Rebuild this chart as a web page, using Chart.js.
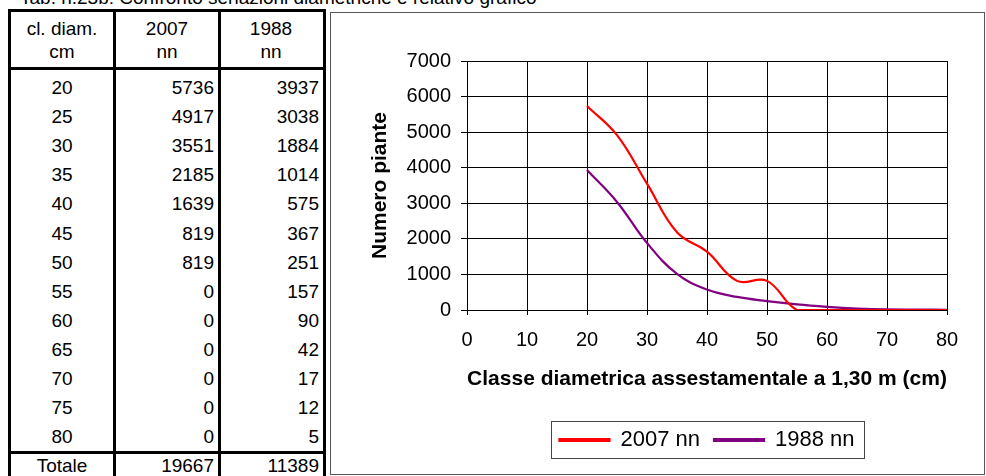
<!DOCTYPE html>
<html>
<head>
<meta charset="utf-8">
<script src="https://cdn.jsdelivr.net/npm/chart.js@4.4.0/dist/chart.umd.min.js"></script>
<style>
	body {
		margin: 0;
		width: 986px;
		height: 476px;
		overflow: hidden;
		position: relative;
		background: #fff;
		color: #000;
		font-family: 'Liberation Sans', Arial, sans-serif;
	}
	.ln { position: absolute; background: #000; }
	.cell {
		position: absolute;
		font-size: 19px;
		line-height: 22px;
		white-space: nowrap;
	}
	#title { position: absolute; left: 20px; top: -12px; font-size: 19px; line-height: 19px; white-space: nowrap; }
	#frame { position: absolute; left: 330px; top: 12px; width: 653px; height: 461px; border: 1px solid #555; }
	#myChart { position: absolute; left: 332px; top: 14px; }
</style>
</head>
<body>
<div id="title">Tab. n.23b: Confronto seriazioni diametriche e relativo grafico</div>
<div id="table"></div>
<div id="frame"></div>
<canvas id="myChart" width="651" height="459"></canvas>

<script>
const classi = [20, 25, 30, 35, 40, 45, 50, 55, 60, 65, 70, 75, 80]
const n2007 = [5736, 4917, 3551, 2185, 1639, 819, 819, 0, 0, 0, 0, 0, 0]
const n1988 = [3937, 3038, 1884, 1014, 575, 367, 251, 157, 90, 42, 17, 12, 5]
const totali = [19667, 11389]
const intestazione = [['cl. diam.', '2007', '1988'], ['cm', 'nn', 'nn']]
const serie = ['2007 nn', '1988 nn']

// tabella a sinistra
const table = document.getElementById('table')
const addLine = (x, y, w, h) => {
	const d = document.createElement('div')
	d.className = 'ln'
	d.style.cssText = `left:${x}px;top:${y}px;width:${w}px;height:${h}px`
	table.appendChild(d)
}
const addCell = (text, x, cy, align) => {
	const d = document.createElement('div')
	d.className = 'cell'
	d.textContent = text
	d.style.top = cy - 11 + 'px'
	if (align === 'center') {
		d.style.left = x - 100 + 'px'
		d.style.width = '200px'
		d.style.textAlign = 'center'
	} else {
		d.style.right = 986 - x + 'px'
	}
	table.appendChild(d)
}

const colX = [8, 113, 218, 323]
colX.forEach(x => addLine(x, 9, 3, 480))
addLine(8, 9, 318, 3)
addLine(8, 67, 318, 3)
addLine(8, 451, 318, 3)

intestazione.forEach((row, r) => {
	const cy = 29 + r * 23
	addCell(row[0], 62, cy, 'center')
	addCell(row[1], 167, cy, 'center')
	addCell(row[2], 271, cy, 'center')
})
classi.forEach((c, i) => {
	const cy = 88 + i * 29.1
	addCell(String(c), 62, cy, 'center')
	addCell(String(n2007[i]), 214, cy, 'right')
	addCell(String(n1988[i]), 319, cy, 'right')
})
addCell('Totale', 62, 466, 'center')
addCell(String(totali[0]), 214, 466, 'right')
addCell(String(totali[1]), 319, 466, 'right')

// bordo della legenda
const legendBox = {
	id: 'legendBox',
	afterDraw(chart) {
		const hb = chart.legend.legendHitBoxes
		if (!hb || !hb.length) return
		const ctx = chart.ctx
		const last = hb[hb.length - 1]
		const l = Math.round(hb[0].left - 8)
		const r = Math.round(last.left + last.width + 9)
		const cy = hb[0].top + hb[0].height / 2
		ctx.save()
		ctx.strokeStyle = '#444'
		ctx.lineWidth = 1
		ctx.strokeRect(l + 0.5, Math.round(cy - 19) + 0.5, r - l, 37)
		ctx.restore()
	},
}

const font = { family: "'Liberation Sans', Arial, sans-serif", size: 20 }
const titleFont = { family: font.family, size: 21, weight: 'bold' }

const chartConfig = {
	type: 'line',
	data: {
		datasets: [
			{
				label: serie[0],
				data: classi.map((x, i) => ({ x, y: n2007[i] })),
				borderColor: '#ff0000',
				backgroundColor: '#ff0000',
				borderWidth: 2.2,
				pointRadius: 0,
				tension: 0.4,
				fill: false,
			},
			{
				label: serie[1],
				data: classi.map((x, i) => ({ x, y: n1988[i] })),
				borderColor: '#800080',
				backgroundColor: '#800080',
				borderWidth: 2.2,
				pointRadius: 0,
				tension: 0.4,
				fill: false,
			},
		],
	},
	options: {
		responsive: false,
		animation: false,
		events: [],
		layout: { padding: { top: 47, right: 36, bottom: 12, left: 0 } },
		plugins: {
			tooltip: { enabled: false },
			legend: {
				position: 'bottom',
				fullSize: false,
				labels: {
					color: '#000',
					font: { family: font.family, size: 22 },
					boxWidth: 50,
					boxHeight: 2,
					padding: 14,
				},
			},
		},
		scales: {
			x: {
				type: 'linear',
				min: 0,
				max: 80,
				ticks: { stepSize: 10, color: '#000', font, padding: 13, maxRotation: 0, callback: v => String(v) },
				grid: { color: '#000', tickColor: '#000', tickLength: 5, lineWidth: 1 },
				border: { color: '#000' },
				title: {
					display: true,
					text: 'Classe diametrica assestamentale a 1,30 m (cm)',
					color: '#000',
					font: titleFont,
					padding: { top: 0, bottom: 23 },
				},
				afterFit(scale) {
					scale.height = 105
				},
			},
			y: {
				min: 0,
				max: 7000,
				ticks: { stepSize: 1000, color: '#000', font, padding: 10, callback: v => String(v) },
				grid: { color: '#000', tickColor: '#000', tickLength: 6, lineWidth: 1 },
				border: { color: '#000' },
				title: {
					display: true,
					text: 'Numero piante',
					color: '#000',
					font: titleFont,
					padding: { top: 36, bottom: 0 },
				},
				afterFit(scale) {
					scale.width = 135
				},
			},
		},
	},
	plugins: [legendBox],
}

new Chart(document.getElementById('myChart').getContext('2d'), chartConfig)
</script>
</body>
</html>
